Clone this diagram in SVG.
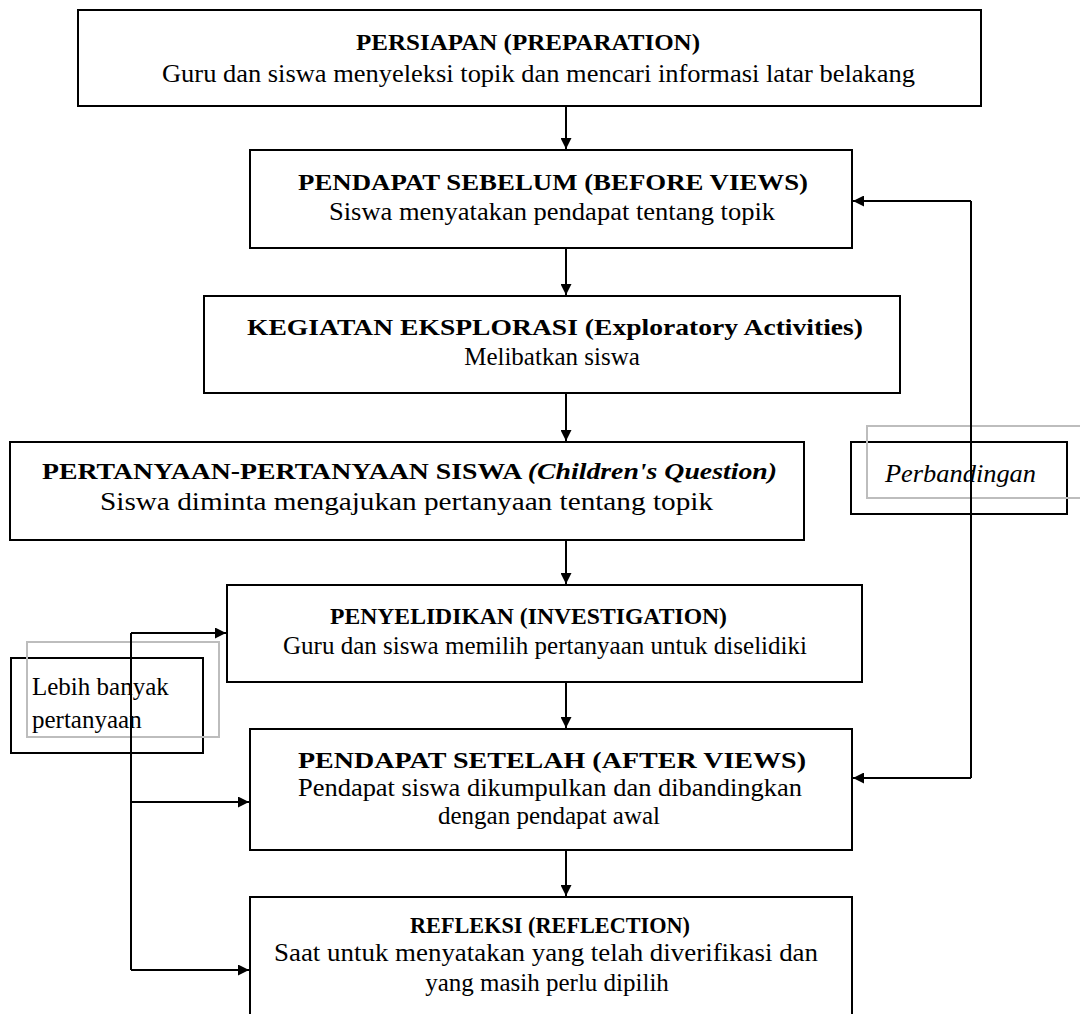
<svg xmlns="http://www.w3.org/2000/svg" width="1080" height="1014" viewBox="0 0 1080 1014">
<style>
.box{fill:#fff;stroke:#000;stroke-width:2}
.gbox{fill:none;stroke:#bdbdbd;stroke-width:2}
.t{font-family:"Liberation Serif","Times New Roman",serif;font-size:23px;font-weight:bold;fill:#000}
.b{font-family:"Liberation Serif","Times New Roman",serif;font-size:25px;fill:#000}
.m{text-anchor:middle}
.i{font-family:"Liberation Serif","Times New Roman",serif;font-size:25px;font-style:italic;fill:#000}
.c{fill:none;stroke:#000;stroke-width:2}
</style>
<defs>
<marker id="ah" viewBox="0 0 10 10" refX="10" refY="5" markerWidth="11" markerHeight="11" markerUnits="userSpaceOnUse" orient="auto">
<path d="M0,0 L10,5 L0,10 z" fill="#000"/>
</marker>
</defs>
<rect width="1080" height="1014" fill="#fff"/>

<g id="n-perbandingan">
<rect class="box" x="851" y="442" width="216" height="72"/>
<rect class="gbox" x="867" y="426" width="220" height="72"/>
<text class="i" x="885" y="482" textLength="151" lengthAdjust="spacingAndGlyphs">Perbandingan</text>
</g>

<g id="n-lebih">
<rect class="box" x="11" y="658" width="192" height="95"/>
<rect class="gbox" x="27" y="642" width="192" height="95"/>
<text class="b" x="32" y="695">Lebih banyak</text>
<text class="b" x="32" y="728">pertanyaan</text>
</g>

<g id="connectors">
<path class="c" d="M566,106 V149" marker-end="url(#ah)"/>
<path class="c" d="M566,248 V295" marker-end="url(#ah)"/>
<path class="c" d="M566,393 V441" marker-end="url(#ah)"/>
<path class="c" d="M566,540 V584" marker-end="url(#ah)"/>
<path class="c" d="M566,682 V728" marker-end="url(#ah)"/>
<path class="c" d="M566,850 V896" marker-end="url(#ah)"/>
<path class="c" d="M971,201 V778"/>
<path class="c" d="M971,201 H853" marker-end="url(#ah)"/>
<path class="c" d="M971,778 H853" marker-end="url(#ah)"/>
<path class="c" d="M131,633 V970"/>
<path class="c" d="M131,633 H226" marker-end="url(#ah)"/>
<path class="c" d="M131,802 H249" marker-end="url(#ah)"/>
<path class="c" d="M131,970 H249" marker-end="url(#ah)"/>
</g>

<g id="n-persiapan">
<rect class="box" x="78" y="10" width="903" height="96"/>
<text class="t" x="356" y="50" textLength="344" lengthAdjust="spacingAndGlyphs">PERSIAPAN (PREPARATION)</text>
<text class="b" x="162" y="82" textLength="753" lengthAdjust="spacingAndGlyphs">Guru dan siswa menyeleksi topik dan mencari informasi latar belakang</text>
</g>

<g id="n-sebelum">
<rect class="box" x="250" y="150" width="602" height="98"/>
<text class="t" x="298" y="190" textLength="510" lengthAdjust="spacingAndGlyphs">PENDAPAT SEBELUM (BEFORE VIEWS)</text>
<text class="b" x="329" y="220" textLength="446" lengthAdjust="spacingAndGlyphs">Siswa menyatakan pendapat tentang topik</text>
</g>

<g id="n-eksplorasi">
<rect class="box" x="204" y="296" width="696" height="97"/>
<text class="t" x="247" y="335" textLength="616" lengthAdjust="spacingAndGlyphs">KEGIATAN EKSPLORASI (Exploratory Activities)</text>
<text class="b m" x="552" y="365">Melibatkan siswa</text>
</g>

<g id="n-pertanyaan">
<rect class="box" x="10" y="442" width="794" height="98"/>
<text class="t" x="42" y="479" textLength="735" lengthAdjust="spacingAndGlyphs">PERTANYAAN-PERTANYAAN SISWA <tspan font-style="italic">(Children's Question)</tspan></text>
<text class="b" x="100" y="510" textLength="613" lengthAdjust="spacingAndGlyphs">Siswa diminta mengajukan pertanyaan tentang topik</text>
</g>

<g id="n-penyelidikan">
<rect class="box" x="227" y="585" width="635" height="97"/>
<text class="t" x="330" y="624" textLength="397" lengthAdjust="spacingAndGlyphs">PENYELIDIKAN (INVESTIGATION)</text>
<text class="b" x="283" y="654" textLength="524" lengthAdjust="spacingAndGlyphs">Guru dan siswa memilih pertanyaan untuk diselidiki</text>
</g>

<g id="n-setelah">
<rect class="box" x="250" y="729" width="602" height="121"/>
<text class="t" x="298" y="768" textLength="508" lengthAdjust="spacingAndGlyphs">PENDAPAT SETELAH (AFTER VIEWS)</text>
<text class="b" x="298" y="796" textLength="504" lengthAdjust="spacingAndGlyphs">Pendapat siswa dikumpulkan dan dibandingkan</text>
<text class="b m" x="549" y="824">dengan pendapat awal</text>
</g>

<g id="n-refleksi">
<rect class="box" x="250" y="897" width="602" height="130"/>
<text class="t" x="410" y="933" textLength="280" lengthAdjust="spacingAndGlyphs">REFLEKSI (REFLECTION)</text>
<text class="b" x="274" y="961" textLength="544" lengthAdjust="spacingAndGlyphs">Saat untuk menyatakan yang telah diverifikasi dan</text>
<text class="b m" x="547" y="991">yang masih perlu dipilih</text>
</g>
</svg>
